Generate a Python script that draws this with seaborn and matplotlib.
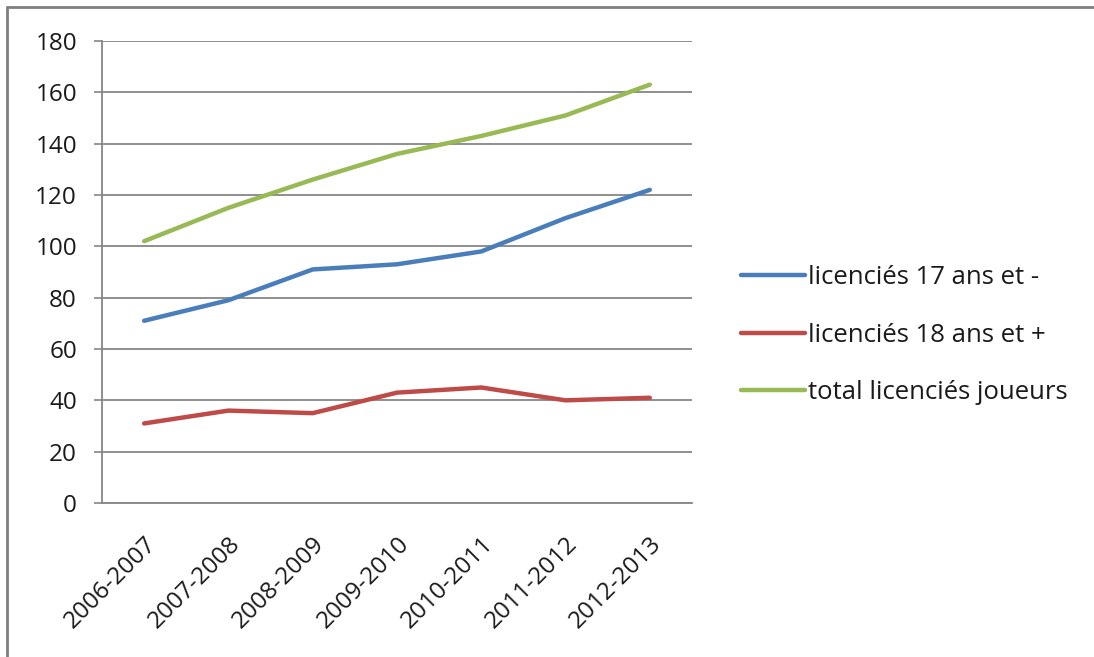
import matplotlib
matplotlib.use("Agg")
import matplotlib.pyplot as plt
import seaborn as sns
import pandas as pd
import numpy as np
from matplotlib.lines import Line2D

seasons = ["2006-2007", "2007-2008", "2008-2009", "2009-2010", "2010-2011", "2011-2012", "2012-2013"]
series_names = ["licenciés 17 ans et -", "licenciés 18 ans et +", "total licenciés joueurs"]
jeunes = [71, 79, 91, 93, 98, 111, 122]
adultes = [31, 36, 35, 43, 45, 40, 41]
total = [102, 115, 126, 136, 143, 151, 163]
colors = ["#4A7EBB", "#BE4B48", "#98B954"]
y_ticks = [0, 20, 40, 60, 80, 100, 120, 140, 160, 180]

sns.set_theme(style="white")
plt.rcParams["font.family"] = ["Open Sans", "DejaVu Sans"]

rows = []
for name, vals in zip(series_names, [jeunes, adultes, total]):
    for i, v in enumerate(vals):
        rows.append({"x": i, "saison": seasons[i], "serie": name, "valeur": v})
df = pd.DataFrame(rows)

FS = 17.5
LFS = 18.5

fig = plt.figure(figsize=(10.94, 6.57), dpi=100)
ax = fig.add_axes([0.0932, 0.2344, 0.5393, 0.7032])

sns.lineplot(data=df, x="x", y="valeur", hue="serie", palette=colors,
             hue_order=series_names, linewidth=3.2, ax=ax, legend=True)

ax.set_xlim(-0.5, len(seasons) - 0.5)
ax.set_ylim(0, 180)
ax.set_yticks(y_ticks)
ax.set_yticklabels([str(t) for t in y_ticks], fontsize=FS, color="#1a1a1a")
ax.set_xticks(range(len(seasons)))
ax.set_xticklabels(seasons, rotation=45, ha="right", rotation_mode="anchor",
                   fontsize=FS, color="#1a1a1a")
ax.set_xticks(np.arange(-0.5, len(seasons), 1.0), minor=True)
ax.tick_params(axis="x", which="major", length=0, pad=21)
ax.tick_params(axis="x", which="minor", length=7, width=1.2, color="#868686", direction="out")
ax.tick_params(axis="y", which="major", length=6, width=1.2, color="#868686", direction="out", left=True, pad=12)
ax.set_xlabel("")
ax.set_ylabel("")
ax.grid(axis="y", color="#868686", linewidth=1.3)
ax.grid(axis="x", visible=False)
for s in ["top", "right"]:
    ax.spines[s].set_visible(False)
for s in ["left", "bottom"]:
    ax.spines[s].set_color("#868686")
    ax.spines[s].set_linewidth(1.3)

leg = ax.legend(loc="center left", bbox_to_anchor=(0.6655, 0.49),
                bbox_transform=fig.transFigure, frameon=False, borderpad=0,
                fontsize=LFS, handlelength=2.5, handletextpad=0.1, labelspacing=1.25)
for line in leg.get_lines():
    line.set_linewidth(3.2)
for t in leg.get_texts():
    t.set_color("#1a1a1a")

# partial frame (top and left edges) like the reference screenshot
fig.add_artist(Line2D([0.006, 1.0], [0.99, 0.99], transform=fig.transFigure,
                      color="#7f7f7f", linewidth=2.0))
fig.add_artist(Line2D([0.006, 0.006], [0.0, 0.99], transform=fig.transFigure,
                      color="#7f7f7f", linewidth=2.0))

fig.savefig("out.png", dpi=100)
